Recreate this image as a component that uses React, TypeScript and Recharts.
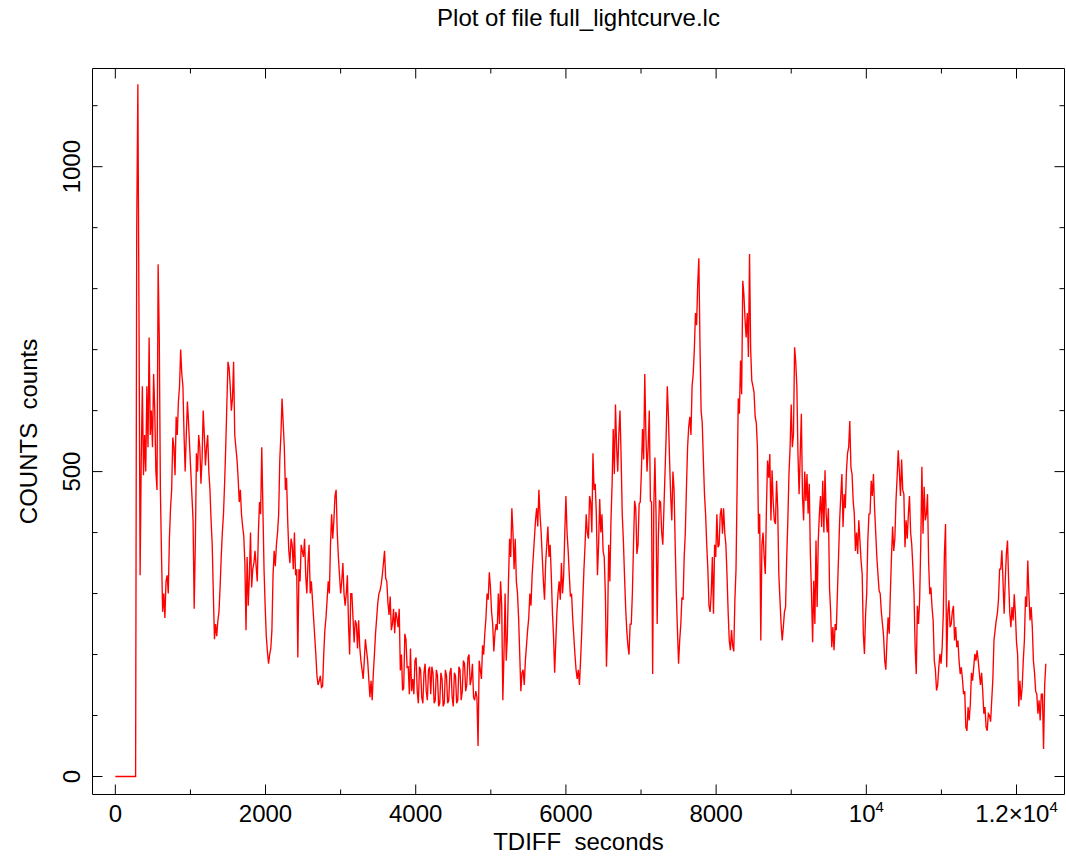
import React from "react"
import { LineChart, Line, XAxis, YAxis } from "recharts"

// light curve: one value per 30 s bin (TDIFF = index * BIN)
// and a second reading half way between bins (TDIFF = index * BIN + BIN / 2)
const BIN = 30

// t = 0 .. 2970 s
const earlyCounts = [
  0, 0, 0, 0, 0, 0, 0, 0, 0, 0,
  1135, 330, 640, 560, 640, 720, 600, 660, 500, 840,
  470, 270, 260, 330, 390, 470, 540, 590, 615, 700,
  640, 500, 615, 540, 460, 275, 530, 560, 480, 600,
  510, 560, 470, 380, 225, 230, 270, 360, 430, 540,
  680, 640, 620, 560, 520, 450, 430, 395, 240, 280,
  400, 340, 370, 320, 450, 540, 340, 230, 185, 210,
  330, 345, 400, 520, 620, 540, 490, 370, 390, 340,
  330, 195, 320, 370, 390, 300, 380, 320, 260, 200,
  150, 165, 148, 240, 290, 300, 430, 420, 470, 360,
]
const earlyMid = [
  0, 0, 0, 0, 0, 0, 0, 0, 0, 900,
  757, 520, 494, 500, 540, 560, 540, 600, 470, 720,
  363, 300, 320, 300, 440, 556, 494, 560, 640, 660,
  560, 560, 580, 500, 420, 380, 500, 540, 520, 560,
  540, 500, 420, 300, 250, 255, 310, 400, 480, 610,
  670, 600, 680, 540, 490, 470, 410, 350, 360, 330,
  310, 350, 345, 400, 430, 440, 280, 205, 200, 240,
  370, 380, 430, 560, 580, 470, 420, 350, 380, 400,
  340, 340, 380, 360, 330, 350, 300, 290, 230, 165,
  157, 146, 200, 260, 320, 380, 390, 460, 400, 330,
]

// t = 3000 .. 4770 s
const troughCounts = [
  300, 350, 280, 330, 200, 300, 220, 250, 256, 190,
  160, 225, 190, 130, 125, 200, 260, 300, 315, 350,
  325, 285, 295, 250, 235, 260, 275, 200, 145, 225,
  180, 210, 160, 190, 140, 180, 130, 170, 140, 175,
  135, 170, 125, 165, 120, 160, 120, 165, 125, 178,
  115, 165, 125, 175, 140, 185, 150, 200, 160, 130,
]
const troughMid = [
  320, 300, 300, 250, 300, 260, 256, 210, 212, 175,
  190, 207, 160, 157, 168, 235, 285, 305, 330, 370,
  320, 265, 240, 275, 270, 245, 174, 141, 234, 179,
  135, 140, 135, 195, 120, 175, 120, 185, 125, 180,
  180, 120, 175, 115, 170, 115, 175, 120, 170, 130,
  170, 120, 180, 125, 190, 140, 195, 150, 185, 125,
]

// t = 4800 .. 8970 s
const flareCounts = [
  140, 50, 175, 215, 235, 300, 335, 270, 205, 250,
  300, 320, 125, 300, 230, 390, 440, 340, 320, 260,
  140, 175, 190, 240, 300, 330, 390, 440, 470, 400,
  320, 350, 410, 380, 270, 170, 270, 320, 350, 330,
  460, 370, 295, 260, 200, 160, 150, 235, 340, 430,
  390, 450, 530, 480, 330, 455, 430, 360, 180, 380,
  420, 570, 610, 500, 600, 430, 330, 240, 200, 250,
  380, 440, 380, 450, 570, 660, 500, 600, 450, 440,
  430, 390, 450, 380, 500, 640, 520, 420, 470, 300,
  185, 250, 290, 400, 540, 590, 640, 700, 740, 850,
  600, 520, 430, 340, 270, 360, 380, 430, 380, 440,
  440, 380, 270, 207, 215, 290, 480, 595, 627, 790,
  720, 688, 700, 640, 590, 540, 431, 380, 360, 441,
  490, 420, 450, 414, 440, 290, 223, 270, 360, 496,
]
const flareMid = [
  130, 190, 160, 200, 260, 290, 310, 250, 235, 240,
  250, 280, 200, 190, 320, 360, 400, 390, 300, 200,
  170, 150, 215, 260, 280, 360, 420, 410, 430, 360,
  290, 380, 360, 330, 230, 220, 300, 290, 300, 400,
  400, 330, 300, 230, 175, 175, 190, 290, 380, 400,
  460, 400, 470, 430, 380, 400, 370, 300, 250, 320,
  480, 496, 540, 562, 523, 387, 278, 215, 250, 300,
  452, 365, 447, 500, 520, 560, 540, 452, 168, 523,
  250, 452, 400, 440, 560, 590, 460, 500, 380, 240,
  223, 294, 360, 474, 573, 560, 660, 760, 808, 709,
  580, 463, 380, 280, 300, 267, 360, 376, 430, 398,
  400, 330, 223, 240, 205, 340, 620, 682, 813, 750,
  760, 857, 649, 630, 580, 398, 223, 400, 332, 518,
  529, 502, 420, 485, 332, 250, 245, 278, 420, 540,
]

// t = 9000 .. 12390 s
const tailCounts = [
  610, 560, 680, 529, 529, 460, 500, 496, 480, 300,
  321, 387, 387, 460, 485, 502, 400, 310, 212, 207,
  240, 360, 460, 409, 440, 530, 583, 496, 431, 400,
  420, 354, 234, 265, 387, 431, 460, 440, 360, 305,
  270, 230, 175, 261, 300, 410, 390, 490, 500, 520,
  463, 420, 430, 400, 343, 212, 280, 290, 508, 475,
  430, 350, 310, 256, 175, 150, 201, 212, 365, 179,
  289, 250, 280, 245, 223, 168, 160, 140, 75, 92,
  170, 179, 190, 190, 150, 140, 114, 75, 100, 125,
  223, 256, 290, 340, 321, 321, 387, 270, 278, 299,
  220, 115, 125, 190, 295, 354, 256, 245, 170, 135,
  125, 135, 45, 185,
]
const tailMid = [
  540, 704, 640, 463, 595, 420, 452, 431, 365, 220,
  250, 278, 430, 409, 400, 431, 440, 270, 245, 250,
  300, 420, 496, 463, 500, 540, 507, 452, 370, 365,
  387, 332, 201, 300, 430, 485, 496, 400, 332, 300,
  250, 190, 223, 234, 360, 370, 452, 535, 460, 470,
  376, 390, 460, 380, 300, 168, 250, 380, 398, 420,
  463, 299, 278, 190, 141, 179, 185, 267, 414, 267,
  245, 270, 223, 212, 190, 179, 135, 81, 114, 119,
  157, 201, 207, 170, 170, 103, 81, 103, 90, 160,
  240, 267, 340, 371, 267, 365, 321, 245, 256, 267,
  200, 157, 146, 223, 278, 299, 278, 190, 140, 103,
  92, 135, 150,
]

const xMajor = [0, 2000, 4000, 6000, 8000, 10000, 12000]
const xTickLabels = ["0", "2000", "4000", "6000", "8000", "10^4", "1.2\u00d710^4"]
const xTicks = [0, 1000, 2000, 3000, 4000, 5000, 6000, 7000, 8000, 9000, 10000, 11000, 12000]

const yMajor = [0, 500, 1000]
const yTickLabels = ["0", "500", "1000"]
const yTicks = [0, 100, 200, 300, 400, 500, 600, 700, 800, 900, 1000, 1100]

const counts = [...earlyCounts, ...troughCounts, ...flareCounts, ...tailCounts]
const mids = [...earlyMid, ...troughMid, ...flareMid, ...tailMid]

const data: { t: number; c: number }[] = []
counts.forEach((c, i) => {
  data.push({ t: i * BIN, c })
  if (i < mids.length) data.push({ t: i * BIN + BIN / 2, c: mids[i] })
})

const X_DOMAIN: [number, number] = [-304, 12639]
const Y_DOMAIN: [number, number] = [-29.5, 1161]

const FONT = "'Liberation Sans', Arial, Helvetica, sans-serif"
const MAJOR = 10
const MINOR = 5

function TickLabel({ x, y, label }: { x: number; y: number; label: string }) {
  const [base, exp] = label.split("^")
  return (
    <text x={x} y={y} textAnchor="middle" fontFamily={FONT} fontSize={24} fill="#000">
      <tspan>{base}</tspan>
      {exp && (
        <tspan dy={-10} fontSize={15}>
          {exp}
        </tspan>
      )}
    </text>
  )
}

function BottomTick(props: any) {
  const { x, y, payload } = props
  const idx = xMajor.indexOf(payload.value)
  const len = idx >= 0 ? MAJOR : MINOR
  return (
    <g>
      <line x1={x} y1={y} x2={x} y2={y - len} stroke="#000" />
      {idx >= 0 && <TickLabel x={x} y={y + 27} label={xTickLabels[idx]} />}
    </g>
  )
}

function TopTick(props: any) {
  const { x, y, payload } = props
  const len = xMajor.includes(payload.value) ? MAJOR : MINOR
  return <line x1={x} y1={y} x2={x} y2={y + len} stroke="#000" />
}

function LeftTick(props: any) {
  const { x, y, payload } = props
  const idx = yMajor.indexOf(payload.value)
  const len = idx >= 0 ? MAJOR : MINOR
  return (
    <g>
      <line x1={x} y1={y} x2={x + len} y2={y} stroke="#000" />
      {idx >= 0 && (
        <text
          transform={`translate(${x - 13},${y}) rotate(-90)`}
          textAnchor="middle"
          fontFamily={FONT}
          fontSize={24}
          fill="#000"
        >
          {yTickLabels[idx]}
        </text>
      )}
    </g>
  )
}

function RightTick(props: any) {
  const { x, y, payload } = props
  const len = yMajor.includes(payload.value) ? MAJOR : MINOR
  return <line x1={x} y1={y} x2={x - len} y2={y} stroke="#000" />
}

export default function App() {
  const axisProps = {
    type: "number" as const,
    allowDataOverflow: true,
    interval: 0 as const,
    tickSize: 0,
    tickMargin: 0,
    tickLine: false,
    axisLine: { stroke: "#000" },
  }
  return (
    <div style={{ position: "absolute", left: 0, top: 0, width: 1066, height: 856, background: "#fff" }}>
      <LineChart
        width={1066}
        height={856}
        data={data}
        margin={{ top: 67.5, right: 0.5, bottom: 60.5, left: 91.5 }}
      >
        <XAxis
          {...axisProps}
          xAxisId="bottom"
          dataKey="t"
          domain={X_DOMAIN}
          ticks={xTicks}
          height={1}
          tick={(p: any) => <BottomTick {...p} />}
        />
        <XAxis
          {...axisProps}
          xAxisId="top"
          orientation="top"
          dataKey="t"
          domain={X_DOMAIN}
          ticks={xTicks}
          height={1}
          tick={(p: any) => <TopTick {...p} />}
        />
        <YAxis
          {...axisProps}
          yAxisId="left"
          domain={Y_DOMAIN}
          ticks={yTicks}
          width={1}
          tick={(p: any) => <LeftTick {...p} />}
        />
        <YAxis
          {...axisProps}
          yAxisId="right"
          orientation="right"
          domain={Y_DOMAIN}
          ticks={yTicks}
          width={1}
          tick={(p: any) => <RightTick {...p} />}
        />
        <Line
          xAxisId="bottom"
          yAxisId="left"
          dataKey="c"
          type="linear"
          stroke="#ff0000"
          strokeWidth={1.35}
          dot={false}
          isAnimationActive={false}
        />
      </LineChart>
      <svg
        width={1066}
        height={856}
        style={{ position: "absolute", left: 0, top: 0, pointerEvents: "none" }}
      >
        <text x={578.5} y={26} textAnchor="middle" fontFamily={FONT} fontSize={24} fill="#000">
          Plot of file full_lightcurve.lc
        </text>
        <text
          x={578.5}
          y={850}
          textAnchor="middle"
          fontFamily={FONT}
          fontSize={24}
          fill="#000"
          style={{ whiteSpace: "pre" }}
        >
          {"TDIFF  seconds"}
        </text>
        <text
          transform="translate(37,431.5) rotate(-90)"
          textAnchor="middle"
          fontFamily={FONT}
          fontSize={24}
          fill="#000"
          style={{ whiteSpace: "pre" }}
        >
          {"COUNTS  counts"}
        </text>
      </svg>
    </div>
  )
}
